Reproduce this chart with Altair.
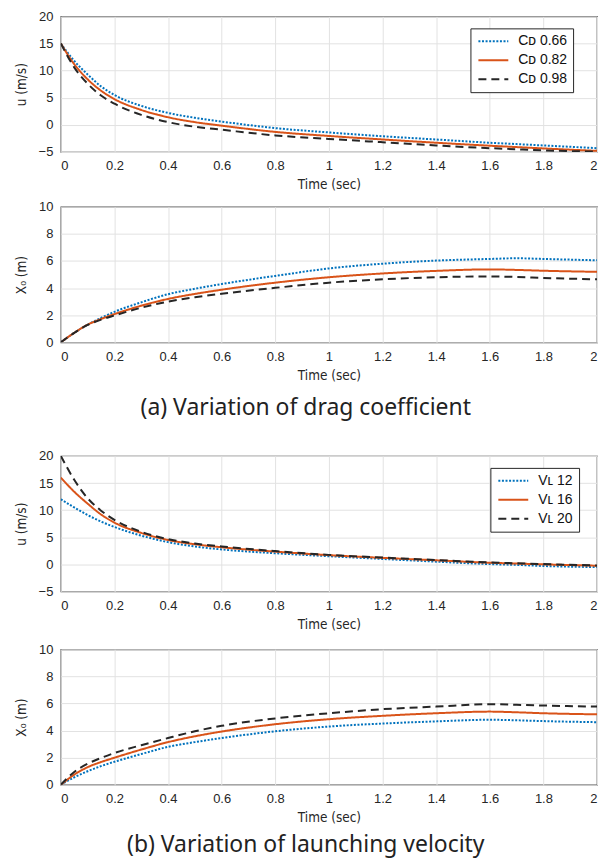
import altair as alt
import pandas as pd

# ---------------- data ----------------
T = [0, 0.05, 0.1, 0.15, 0.2, 0.3, 0.4, 0.5, 0.6, 0.8, 1.0, 1.2, 1.4, 1.6, 1.7, 1.8, 2.0]

X_TICKS = [0, 0.2, 0.4, 0.6, 0.8, 1, 1.2, 1.4, 1.6, 1.8, 2]
U_TICKS = [-5, 0, 5, 10, 15, 20]
X0_TICKS = [0, 2, 4, 6, 8, 10]

CD_LABELS = ["Cᴅ 0.66", "Cᴅ 0.82", "Cᴅ 0.98"]
VL_LABELS = ["Vʟ 12", "Vʟ 16", "Vʟ 20"]

# (a) drag coefficient: velocity u (m/s)
U_CD066 = [15, 11.8, 9.3, 7.1, 5.5, 3.5, 2.2, 1.3, 0.6, -0.6, -1.4, -2.1, -2.7, -3.3, -3.55, -3.8, -4.3]
U_CD082 = [15, 11.2, 8.4, 6.3, 4.75, 2.75, 1.4, 0.5, -0.15, -1.3, -2.05, -2.7, -3.3, -3.85, -4.1, -4.35, -4.8]
U_CD098 = [15, 10.6, 7.6, 5.4, 3.9, 1.85, 0.5, -0.35, -0.9, -1.95, -2.6, -3.2, -3.8, -4.3, -4.5, -4.7, -4.95]

# (a) drag coefficient: displacement X0 (m)
X_CD066 = [0, 0.7, 1.3, 1.8, 2.25, 2.95, 3.55, 3.95, 4.3, 4.9, 5.45, 5.8, 6.03, 6.15, 6.2, 6.15, 6.05]
X_CD082 = [0, 0.7, 1.3, 1.72, 2.08, 2.7, 3.2, 3.57, 3.88, 4.4, 4.8, 5.08, 5.27, 5.38, 5.34, 5.28, 5.2]
X_CD098 = [0, 0.7, 1.28, 1.67, 1.98, 2.55, 3.0, 3.32, 3.58, 4.02, 4.4, 4.65, 4.8, 4.86, 4.82, 4.75, 4.65]

# (b) launching velocity: velocity u (m/s)
U_VL12 = [12, 10.5, 9.1, 7.9, 6.9, 5.3, 4.1, 3.3, 2.75, 2.05, 1.5, 1.0, 0.5, 0.05, -0.1, -0.3, -0.5]
U_VL16 = [16, 13.4, 11.2, 9.2, 7.7, 5.8, 4.5, 3.7, 3.15, 2.35, 1.7, 1.2, 0.75, 0.3, 0.15, 0.0, -0.25]
U_VL20 = [20, 15.6, 12.2, 9.9, 8.2, 6.0, 4.65, 3.85, 3.3, 2.45, 1.75, 1.25, 0.8, 0.35, 0.2, 0.05, -0.2]

# (b) launching velocity: displacement X0 (m)
X_VL12 = [0, 0.55, 1.0, 1.38, 1.7, 2.27, 2.8, 3.15, 3.45, 3.95, 4.3, 4.52, 4.68, 4.8, 4.76, 4.7, 4.62]
X_VL16 = [0, 0.75, 1.3, 1.68, 2.0, 2.6, 3.15, 3.58, 3.93, 4.47, 4.84, 5.09, 5.28, 5.4, 5.35, 5.28, 5.2]
X_VL20 = [0, 0.95, 1.55, 1.98, 2.35, 2.92, 3.45, 3.95, 4.35, 4.9, 5.28, 5.58, 5.77, 5.95, 5.9, 5.85, 5.77]

COLORS = ["#0072BD", "#D95319", "#262626"]
DASHES = [[2, 1.6], [1, 0], [8, 5]]

TICK_FONT = "Liberation Sans, Arial, sans-serif"
TITLE_FONT = "Liberation Sans Narrow, DejaVu Sans Condensed, Liberation Sans, sans-serif"
CAPTION_FONT = "Noto Sans, Open Sans, sans-serif"

W = 538

# legend sample line: a horizontal stroke 30 px long for a symbol of size 100 (r = 5)
LEGEND_LINE = "M-1,0H5"


def long_df(labels, series):
    rows = []
    for lab, vals in zip(labels, series):
        for t, v in zip(T, vals):
            rows.append({"t": t, "v": v, "s": lab})
    return pd.DataFrame(rows)


def panel(labels, series, ytitle, ydomain, yticks, height, legend_x=None,
          caption=None, caption_offset=12):
    df = long_df(labels, series)
    if legend_x is not None:
        leg = alt.Legend(
            orient="none", legendX=legend_x, legendY=12, title=None,
            symbolType=LEGEND_LINE, symbolSize=100, symbolStrokeWidth=2,
            symbolFillColor="transparent",
            labelFont=TICK_FONT, labelFontSize=14, labelColor="#111",
            strokeColor="#262626", fillColor="white", padding=6,
            rowPadding=5, labelOffset=28, cornerRadius=0,
        )
    else:
        leg = None
    props = dict(width=W, height=height)
    if caption is not None:
        props["title"] = alt.TitleParams(
            caption, orient="bottom", anchor="middle", frame="bounds",
            font=CAPTION_FONT, fontSize=23, fontWeight="normal",
            color="#222", offset=caption_offset,
        )
    return alt.Chart(df).mark_line(interpolate="monotone", strokeWidth=2, clip=True).encode(
        x=alt.X("t:Q", scale=alt.Scale(domain=[0, 2], nice=False),
                axis=alt.Axis(values=X_TICKS, format="~g", title="Time (sec)")),
        y=alt.Y("v:Q", scale=alt.Scale(domain=ydomain, nice=False),
                axis=alt.Axis(values=yticks, title=ytitle)),
        color=alt.Color("s:N", scale=alt.Scale(domain=labels, range=COLORS), legend=leg),
        strokeDash=alt.StrokeDash("s:N", scale=alt.Scale(domain=labels, range=DASHES), legend=leg),
        order=alt.Order("t:Q"),
    ).properties(**props)


p1 = panel(CD_LABELS, [U_CD066, U_CD082, U_CD098], "u (m/s)", [-5, 20], U_TICKS, 136,
           legend_x=W - 127)
p2 = panel(CD_LABELS, [X_CD066, X_CD082, X_CD098], "X₀ (m)", [0, 10], X0_TICKS, 136,
           caption="(a) Variation of drag coefficient", caption_offset=15)
p3 = panel(VL_LABELS, [U_VL12, U_VL16, U_VL20], "u (m/s)", [-5, 20], U_TICKS, 136,
           legend_x=W - 107)
p4 = panel(VL_LABELS, [X_VL12, X_VL16, X_VL20], "X₀ (m)", [0, 10], X0_TICKS, 136,
           caption="(b) Variation of launching velocity", caption_offset=10)

indep = dict(color="independent", strokeDash="independent")

group_a = alt.vconcat(p1, p2, spacing=7).resolve_scale(**indep).resolve_legend(**indep)
group_b = alt.vconcat(p3, p4, spacing=10).resolve_scale(**indep).resolve_legend(**indep)

chart = alt.vconcat(group_a, group_b, spacing=28).resolve_scale(**indep).resolve_legend(
    **indep
).properties(
    padding={"left": 5, "top": 0, "right": 0, "bottom": 0}
).configure_view(
    stroke="#333", strokeWidth=1.2
).configure_axis(
    grid=True, gridColor="#e2e2e2", gridWidth=1, domain=False, ticks=False,
    labelFont=TICK_FONT, labelFontSize=13, labelColor="#262626", labelPadding=8,
    titleFont=TITLE_FONT, titleFontSize=13.5, titleFontWeight="normal", titleColor="#262626",
).configure_axisX(
    titlePadding=5,
).configure_axisY(
    titlePadding=10,
)

chart.save("out.html", embed_options={"renderer": "svg", "actions": False})
